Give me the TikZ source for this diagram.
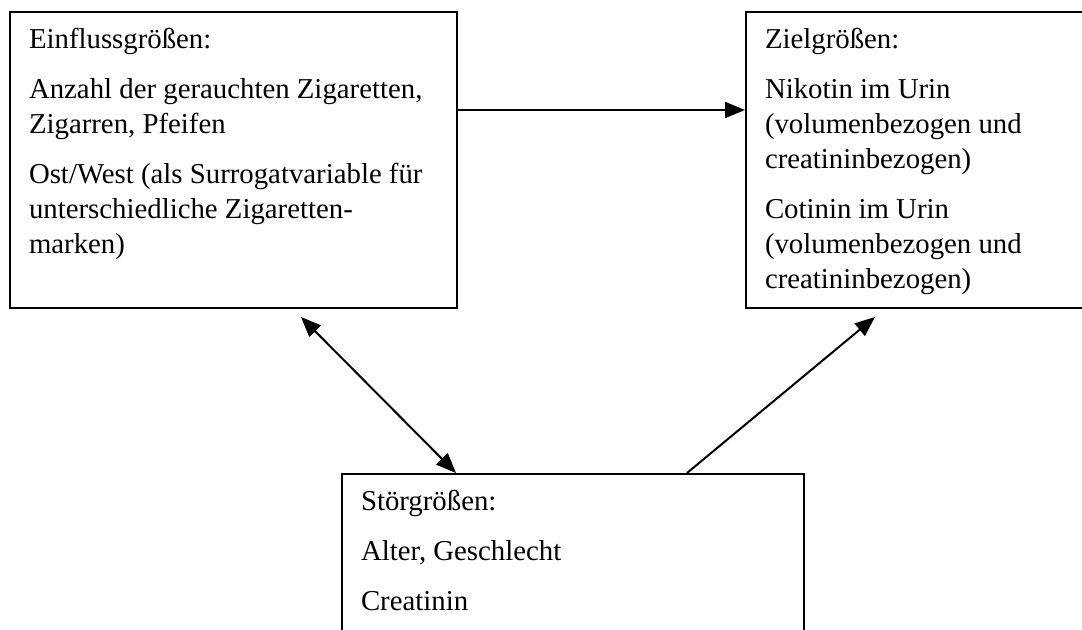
\documentclass[tikz,border=0pt]{standalone}
\usepackage{fontspec}
\setmainfont{Liberation Serif}
\usetikzlibrary{arrows.meta}

% Text oben im Kasten
\newcommand{\kastentext}[3]{\parbox[t][#2][t]{#1}{\fontsize{14.4}{17.5}\selectfont\raggedright\setlength{\parskip}{7.5pt}#3}}

\begin{document}
\begin{tikzpicture}[x=0.5pt, y=-0.5pt,
        kasten/.style={draw, line width=1pt, anchor=north west, inner xsep=9.5pt, inner ysep=8pt},
        spitze/.tip={Triangle[length=10pt, width=8pt]},
        pfeil/.style={-spitze, line width=1pt},
        doppelpfeil/.style={spitze-spitze, line width=1pt}]
        \clip (0,0) rectangle (1082,630);

        % Einflussgroessen
        \node[kasten] (einfluss) at (9,11) {\kastentext{204.5pt}{132pt}{%
            Einflussgrößen:\par
            Anzahl der gerauchten Zigaretten,\\ Zigarren, Pfeifen\par
            Ost/West (als Surrogatvariable für\\ unterschiedliche Zigaretten-\\ marken)}};

        % Zielgroessen
        \node[kasten] (ziel) at (745,11) {\kastentext{158.5pt}{132pt}{%
            Zielgrößen:\par
            Nikotin im Urin\\ (volumenbezogen und\\ creatininbezogen)\par
            Cotinin im Urin\\ (volumenbezogen und\\ creatininbezogen)}};

        % Stoergroessen
        \node[kasten] (stoer) at (341,473) {\kastentext{212pt}{77.5pt}{%
            Störgrößen:\par
            Alter, Geschlecht\par
            Creatinin}};

        % Verbindungen
        \draw[pfeil] ([yshift=-49.5pt]einfluss.north east) -- ([yshift=-49.5pt]ziel.north west);
        \draw[doppelpfeil] ([shift={(67.5,8)}]einfluss.south) -- ([shift={(115,0)}]stoer.north west);
        \draw[pfeil] ([shift={(346,0)}]stoer.north west) -- ([shift={(130,8)}]ziel.south west);

    \end{tikzpicture}
\end{document}
